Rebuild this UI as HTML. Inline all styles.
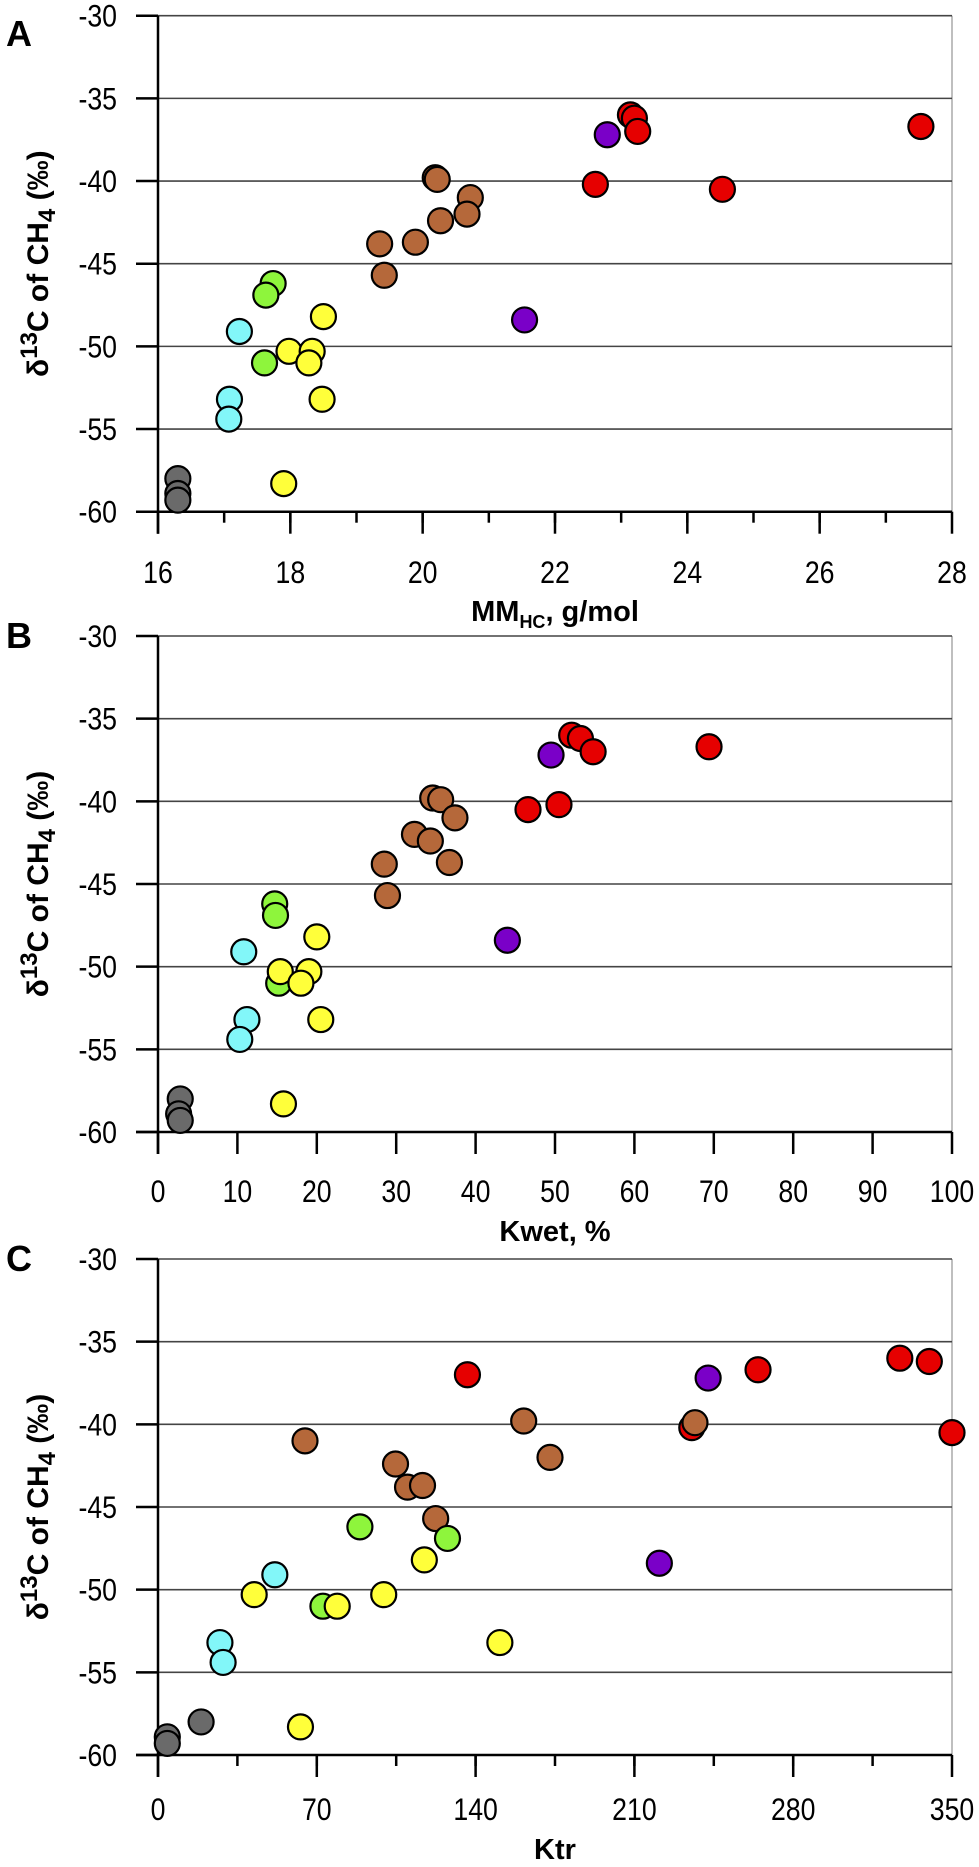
<!DOCTYPE html>
<html><head><meta charset="utf-8"><style>
html,body{margin:0;padding:0;background:#fff}
svg{display:block;font-family:"Liberation Sans",Arial,sans-serif}
</style></head><body>
<svg id="chart" width="979" height="1867" viewBox="0 0 979 1867" xmlns="http://www.w3.org/2000/svg"></svg>
<script>
// ---- data (one entry per sample) ----
const groups = ["red","red","red","red","red","red","purple","purple","brown","brown","brown","brown","brown","brown","brown","brown","green","green","green","cyan","cyan","cyan","yellow","yellow","yellow","yellow","yellow","yellow","grey","grey","grey"];
const d13C  = [-36.0,-36.2,-37.0,-36.7,-40.2,-40.5,-37.2,-48.4,-39.8,-39.9,-41.0,-42.0,-42.4,-43.8,-43.7,-45.7,-46.2,-46.9,-51.0,-49.1,-53.2,-54.4,-48.2,-50.3,-50.3,-51.0,-53.2,-58.3,-58.0,-58.9,-59.3];
const mmHC  = [23.14,23.2,23.25,27.53,22.61,24.53,22.79,21.54,20.19,20.22,20.72,20.67,20.27,19.35,19.89,19.42,17.74,17.63,17.61,17.23,17.08,17.07,18.5,17.98,18.33,18.28,18.48,17.9,16.3,16.3,16.3];
const kwet  = [52.1,53.2,54.8,69.4,50.5,46.6,49.5,44.0,34.6,35.6,37.4,32.3,34.3,28.5,36.7,28.9,14.7,14.8,15.2,10.8,11.2,10.3,20.0,15.4,19.0,18.0,20.5,15.8,2.8,2.6,2.8];
const ktr   = [327,340,136.4,264.5,235.3,350,242.5,221,161.2,236.7,64.8,172.8,104.7,110,116.6,122.4,89,127.6,72.7,51.5,27.3,28.7,117.4,42.4,99.5,79,150.7,62.8,19,4.1,4.1];
const yTicks = [-30,-35,-40,-45,-50,-55,-60];
const ticksA = [16,18,20,22,24,26,28];
const ticksB = [0,10,20,30,40,50,60,70,80,90,100];
const ticksC = [0,70,140,210,280,350];

const colors = {red:"#e60000",purple:"#7a00c8",brown:"#b5683a",green:"#8ef53c",cyan:"#82f7f9",yellow:"#ffff3a",grey:"#6a6a6a"};
const NS="http://www.w3.org/2000/svg";
const svg=document.getElementById('chart');
function mk(tag,attrs,parent){const e=document.createElementNS(NS,tag);for(const k in attrs)e.setAttribute(k,attrs[k]);(parent||svg).appendChild(e);return e;}

const L=158,R=952,H=496;
const panels=[
 {id:"a",letter:"A",top:15.7,xmin:16,xmax:28,ticks:ticksA,minor:1,xs:mmHC,lblY:583,titleY:621,letterY:46},
 {id:"b",letter:"B",top:636,xmin:0,xmax:100,ticks:ticksB,minor:null,xs:kwet,lblY:1202,titleY:1241,letterY:648},
 {id:"c",letter:"C",top:1259,xmin:0,xmax:350,ticks:ticksC,minor:35,xs:ktr,lblY:1820,titleY:1859,letterY:1271}
];
panels.forEach(p=>{
  const g=mk('g',{});
  
  
  const xS=v=>L+(v-p.xmin)/(p.xmax-p.xmin)*(R-L);
  const yS=v=>p.top+(-30-v)/30*H;
  const bottom=p.top+H;
  const rb=mk('line',{x1:R,y1:p.top,x2:R,y2:bottom,stroke:"#aaa","stroke-width":1.5},g);
  
  
  yTicks.forEach(t=>{
    const y=yS(t);
    if(t>-60){
      const gl=mk('line',{x1:L,y1:y,x2:R,y2:y,stroke:"#444","stroke-width":1.6},g);
      
      
    }
    const tk=mk('line',{x1:L-22,y1:y,x2:L,y2:y,stroke:"#000","stroke-width":2.5},g);
    
    
    const tl=mk('text',{x:0,y:0,"text-anchor":"end","font-size":29,transform:`translate(117,${y+11}) scale(0.92,1.08)`},g);
    tl.textContent=String(t);
    
    
  });
  const ya=mk('line',{x1:L,y1:p.top,x2:L,y2:bottom+22,stroke:"#000","stroke-width":2.5},g);
  
  
  const xa=mk('line',{x1:L-22,y1:bottom,x2:R,y2:bottom,stroke:"#000","stroke-width":2.5},g);
  
  
  if(p.minor){
    for(let v=p.xmin+p.minor;v<p.xmax;v+=p.minor){
      const mt=mk('line',{x1:xS(v),y1:bottom,x2:xS(v),y2:bottom+11,stroke:"#000","stroke-width":2.5},g);
      
      
    }
  }
  p.ticks.forEach(t=>{
    const x=xS(t);
    const tk=mk('line',{x1:x,y1:bottom,x2:x,y2:bottom+22,stroke:"#000","stroke-width":2.5},g);
    
    
    const tl=mk('text',{x:0,y:0,"text-anchor":"middle","font-size":29,transform:`translate(${x},${p.lblY}) scale(0.92,1.08)`},g);
    tl.textContent=String(t);
    
    
  });
  const xt=mk('text',{x:(L+R)/2,y:p.titleY,"text-anchor":"middle","font-size":29,"font-weight":"bold"},g);
  
  
  if(p.id==="a"){
    xt.innerHTML='MM<tspan font-size="18" dy="7">HC</tspan><tspan dy="-7">, g/mol</tspan>';
  } else if(p.id==="b"){ xt.textContent="Kwet, %"; } else { xt.textContent="Ktr"; }
  const cy=p.top+H/2;
  const yt=mk('text',{x:0,y:0,"text-anchor":"middle","font-size":30,"font-weight":"bold",transform:`translate(48,${cy}) rotate(-90)`},g);
  
  
  yt.innerHTML='δ<tspan font-size="24" dy="-11">13</tspan><tspan dy="11">C of CH</tspan><tspan font-size="24" dy="7">4</tspan><tspan dy="-7"> (‰)</tspan>';
  const lt=mk('text',{x:6,y:p.letterY,"font-size":36,"font-weight":"bold"},g);
  lt.textContent=p.letter;
  
  
  d13C.forEach((v,i)=>{
    const c=mk('circle',{cx:xS(p.xs[i]),cy:yS(v),r:12.5,fill:colors[groups[i]],stroke:"#000","stroke-width":2.2},g);
    
    
  });
});
</script>
</body></html>
